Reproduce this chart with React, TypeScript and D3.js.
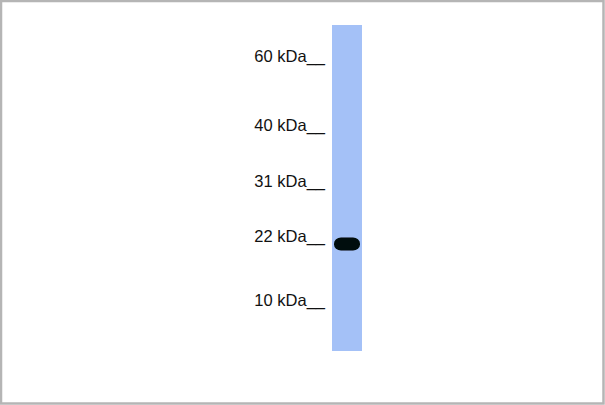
import React, { useEffect, useRef } from 'react';
import * as d3 from 'd3';

// marker ladder (kDa) and their labels
const markerWeights = [60, 40, 31, 22, 10];
const markerLabels = ['60 kDa', '40 kDa', '31 kDa', '22 kDa', '10 kDa'];
// detected bands in the single lane (kDa)
const bandWeights = [22];

export default function App() {
  const svgRef = useRef<SVGSVGElement>(null);

  useEffect(() => {
    if (!svgRef.current) return;
    const svg = d3.select(svgRef.current);
    svg.selectAll('*').remove();

    const width = 605;
    const height = 405;

    // gel migration is not linear in kDa, so map the ladder piecewise
    const yScale = d3.scaleLinear()
      .domain(markerWeights)
      .range([64, 133, 189, 244, 308]);

    const lane = { x: 332, width: 30, top: 25, bottom: 351 };

    // frame
    svg.append('rect')
      .attr('x', 0)
      .attr('y', 0)
      .attr('width', width)
      .attr('height', height)
      .style('fill', '#fff');

    svg.append('rect')
      .attr('x', 1)
      .attr('y', 1)
      .attr('width', width - 2.5)
      .attr('height', height - 2.5)
      .style('fill', 'none')
      .style('stroke', '#b5b5b5')
      .style('stroke-width', 2.5);

    const defs = svg.append('defs');
    defs.append('filter')
      .attr('id', 'blur')
      .attr('x', '-20%')
      .attr('y', '-40%')
      .attr('width', '140%')
      .attr('height', '180%')
      .append('feGaussianBlur')
      .attr('stdDeviation', 0.6);

    // lane
    svg.append('rect')
      .attr('x', lane.x)
      .attr('y', lane.top)
      .attr('width', lane.width)
      .attr('height', lane.bottom - lane.top)
      .style('fill', '#a4c1f7');

    // bands
    bandWeights.forEach(w => {
      const cy = yScale(w);
      const cx = lane.x + lane.width / 2;
      svg.append('rect')
        .attr('x', cx - 13)
        .attr('y', cy - 6.5)
        .attr('width', 26)
        .attr('height', 13)
        .attr('rx', 7)
        .attr('ry', 6)
        .style('fill', '#050d09')
        .attr('filter', 'url(#blur)');
    });

    // marker labels
    markerWeights.forEach((w, i) => {
      svg.append('text')
        .attr('x', 325)
        .attr('y', yScale(w) - 2)
        .attr('text-anchor', 'end')
        .style('font-family', 'Arial, "Liberation Sans", sans-serif')
        .style('font-size', '16.5px')
        .style('fill', '#111')
        .text(`${markerLabels[i]}__`);
    });
  }, []);

  return (
    <svg
      ref={svgRef}
      width={605}
      height={405}
      style={{ position: 'absolute', left: 0, top: 0, display: 'block' }}
    />
  );
}
